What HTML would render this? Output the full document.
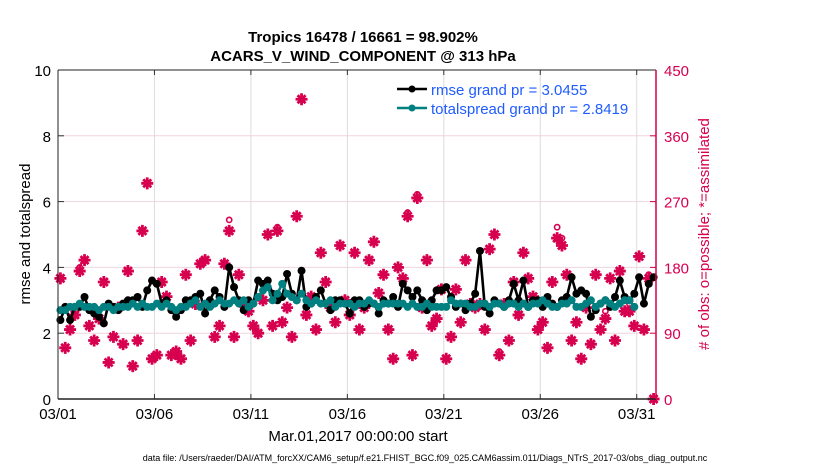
<!DOCTYPE html>
<html><head><meta charset="utf-8"><style>
body{margin:0;background:#fff;}
svg{display:block;font-family:"Liberation Sans",Arial,sans-serif;}
</style></head><body>
<svg id="chart" width="830" height="470" viewBox="0 0 830 470">
<g id="grid"></g>
<g id="obs"></g>
<g id="lines"></g>
<g id="axes"></g>
<text x="363" y="42" text-anchor="middle" font-size="15" font-weight="bold">Tropics 16478 / 16661 = 98.902%</text>
<text x="363" y="61" text-anchor="middle" font-size="15" font-weight="bold">ACARS_V_WIND_COMPONENT @ 313 hPa</text>
<text transform="translate(30,234) rotate(-90)" text-anchor="middle" font-size="15">rmse and totalspread</text>
<text transform="translate(709,234) rotate(-90)" text-anchor="middle" font-size="15" fill="#d6004f"># of obs: o=possible; *=assimilated</text>
<text x="358" y="441" text-anchor="middle" font-size="15">Mar.01,2017 00:00:00 start</text>
<text x="425" y="461" text-anchor="middle" font-size="9">data file: /Users/raeder/DAI/ATM_forcXX/CAM6_setup/f.e21.FHIST_BGC.f09_025.CAM6assim.011/Diags_NTrS_2017-03/obs_diag_output.nc</text>
<g>
<line x1="397" y1="89" x2="427" y2="89" stroke="#000" stroke-width="2.5"/><circle cx="412" cy="89" r="3.5" fill="#000"/>
<text x="431" y="95" font-size="15" fill="#1f5cff">rmse grand pr = 3.0455</text>
<line x1="397" y1="108" x2="427" y2="108" stroke="#008080" stroke-width="2.5"/><circle cx="412" cy="108" r="3.5" fill="#008080"/>
<text x="431" y="114" font-size="15" fill="#1f5cff">totalspread grand pr = 2.8419</text>
</g>
</svg>
<script>
const rmse=[2.4,2.8,2.4,2.8, 2.8,3.1,2.7,2.6, 2.5,2.3,2.9,2.8, 2.7,2.9,3.0,3.0, 3.1,2.8,3.3,3.6, 3.5,2.9,3.0,2.7, 2.5,2.7,3.0,3.0, 3.1,3.2,2.6,3.0, 3.3,3.1,2.8,4.0, 3.4,3.0,2.7,3.0, 2.9,3.6,3.5,3.6, 3.2,3.0,3.1,3.8, 3.2,3.0,3.9,2.8, 2.9,3.1,3.3,2.9, 2.7,3.0,3.0,2.9, 2.6,3.0,3.0,2.8, 2.9,2.9,2.6,3.0, 2.9,3.1,2.8,3.5, 3.3,3.1,3.3,3.0, 2.7,3.0,3.3,3.3, 3.4,3.1,2.8,2.9, 2.7,2.9,3.2,4.5, 2.8,2.6,3.0,2.9, 2.8,3.0,3.5,3.0, 3.6,2.8,3.0,3.0, 2.8,3.1,2.9,2.8, 3.0,3.1,3.7,3.2, 3.3,3.2,2.5,2.7, 2.9,3.0,2.8,3.1, 3.6,3.1,3.0,3.2, 3.7,2.9,3.5,3.7];
const spread=[2.7,2.7,2.8,2.8, 2.9,2.8,2.8,2.8, 2.7,2.8,2.8,2.7, 2.8,2.8,2.8,2.9, 2.8,2.9,2.8,2.8, 2.9,2.8,2.9,2.8, 2.7,2.8,2.8,2.9, 3.0,2.8,2.9,2.8, 2.9,3.0,2.9,2.9, 3.0,2.9,3.0,2.8, 2.9,3.1,3.3,3.4, 3.0,3.2,3.5,3.2, 3.1,3.0,3.2,3.0, 2.9,3.0,2.9,2.9, 3.0,2.8,2.9,2.9, 2.9,2.8,2.9,2.9, 3.0,2.9,2.8,2.9, 2.9,2.9,2.9,2.9, 2.8,2.9,2.8,2.8, 2.9,2.8,2.8,2.8, 2.8,3.0,2.9,2.9, 2.9,2.8,2.8,2.9, 2.9,2.8,2.9,2.9, 2.8,2.9,2.9,2.8, 2.9,2.8,2.9,2.9, 3.0,2.9,2.8,2.8, 2.9,2.9,3.0,2.8, 2.8,2.9,3.0,2.8, 2.9,3.0,2.9,2.8, 2.9,3.0,3.0,2.8];
const assimilated=[165,70,95,115, 175,190,100,80, 110,160,50,85, 125,75,175,45, 80,230,295,55, 60,160,140,60, 65,55,170,80, 130,185,190,130, 85,100,185,230, 85,170,130,120, 100,90,135,225, 100,230,105,125, 85,250,410,115, 140,95,200,160, 125,105,210,135, 115,200,95,125, 190,215,145,170, 95,55,180,165, 250,60,275,125, 190,100,110,150, 55,85,150,105, 190,130,125,130, 95,205,225,60, 130,80,160,115, 200,165,140,95, 105,70,160,220, 210,170,80,105, 55,125,75,170, 95,110,165,80, 175,120,120,100, 195,95,165,0];
const possible=[165,70,95,115, 180,190,100,80, 110,160,50,85, 125,75,175,45, 80,230,295,55, 60,160,140,60, 65,55,170,80, 130,185,190,130, 85,100,185,245, 85,170,130,120, 100,90,135,225, 100,235,105,125, 85,250,410,115, 140,95,200,160, 125,105,210,135, 115,200,95,125, 190,215,145,170, 95,55,180,165, 255,60,280,125, 190,100,110,150, 55,85,150,105, 190,130,125,130, 95,205,225,65, 130,80,160,115, 200,165,140,95, 105,70,160,235, 220,170,80,105, 55,125,75,170, 95,120,165,80, 175,120,130,100, 195,95,170,0];
const xTicks=["03/01","03/06","03/11","03/16","03/21","03/26","03/31"];
const yTicks=[0,2,4,6,8,10];
const obsTicks=[0,90,180,270,360,450];
const NS="http://www.w3.org/2000/svg";
const L=58,R=656,T=70,B=399,DAYS=31;
const xOf=i=>L+(i*0.25+0.125)*(R-L)/DAYS;
const xDay=d=>L+d*(R-L)/DAYS;
const yL=v=>B-v/10*(B-T);
const yR=v=>B-v/450*(B-T);
function mk(tag,attrs,parent){const e=document.createElementNS(NS,tag);for(const k in attrs)e.setAttribute(k,attrs[k]);parent.appendChild(e);return e;}
const grid=document.getElementById('grid'),axes=document.getElementById('axes'),obs=document.getElementById('obs'),lines=document.getElementById('lines');
xTicks.forEach((t,i)=>{const x=xDay(i*5);
 const g=mk('line',{x1:x,y1:T,x2:x,y2:B,stroke:'#dcdcdc','stroke-width':1},grid);
 
 
 mk('line',{x1:x,y1:B,x2:x,y2:B-5,stroke:'#333'},axes);
 mk('line',{x1:x,y1:T,x2:x,y2:T+5,stroke:'#333'},axes);
 const tx=mk('text',{x:x,y:B+20,'text-anchor':'middle','font-size':15},axes);tx.textContent=t;
 
 
});
obsTicks.forEach(v=>{const y=yR(v);
 if(v>0&&v<450){const g=mk('line',{x1:L,y1:y,x2:R,y2:y,stroke:'#f0d4e0','stroke-width':1},grid);
 
 }
 mk('line',{x1:R,y1:y,x2:R-6,y2:y,stroke:'#d6004f'},axes);
 const tx=mk('text',{x:R+8,y:y+6,'font-size':15,fill:'#d6004f'},axes);tx.textContent=v;
 
 
});
yTicks.forEach(v=>{const y=yL(v);
 mk('line',{x1:L,y1:y,x2:L+6,y2:y,stroke:'#333'},axes);
 const tx=mk('text',{x:L-7,y:y+6,'text-anchor':'end','font-size':15},axes);tx.textContent=v;
 
 
});
mk('line',{x1:L,y1:T,x2:R,y2:T,stroke:'#222'},axes);
mk('line',{x1:L,y1:B,x2:R,y2:B,stroke:'#222','stroke-width':1.5},axes);
mk('line',{x1:L,y1:T,x2:L,y2:B,stroke:'#222'},axes);
mk('line',{x1:R,y1:T,x2:R,y2:B,stroke:'#d6004f','stroke-width':1.5},axes);
possible.forEach((v,i)=>{const c=mk('circle',{cx:xOf(i),cy:yR(v),r:2.6,fill:'none',stroke:'#d6004f','stroke-width':1.6},obs);
 
 });
assimilated.forEach((v,i)=>{const x=xOf(i),y=yR(v),s=4;
 const p=mk('path',{d:`M${x-s} ${y-s}L${x+s} ${y+s}M${x-s} ${y+s}L${x+s} ${y-s}M${x-6} ${y}L${x+6} ${y}M${x} ${y-6}L${x} ${y+6}`,stroke:'#d6004f','stroke-width':2.8,fill:'none'},obs);
 
 
 const c=mk('circle',{cx:x,cy:y,r:3.2,fill:'#d6004f'},obs);
 
 });
function series(arr,col,name){
 const pl=mk('polyline',{points:arr.map((v,i)=>xOf(i)+','+yL(v)).join(' '),fill:'none',stroke:col,'stroke-width':2.6},lines);
 
 
 arr.forEach((v,i)=>{const c=mk('circle',{cx:xOf(i),cy:yL(v),r:4,fill:col},lines);
 
 });
}
series(rmse,'#000','rmse');
series(spread,'#008080','totalspread');
</script>
</body></html>
